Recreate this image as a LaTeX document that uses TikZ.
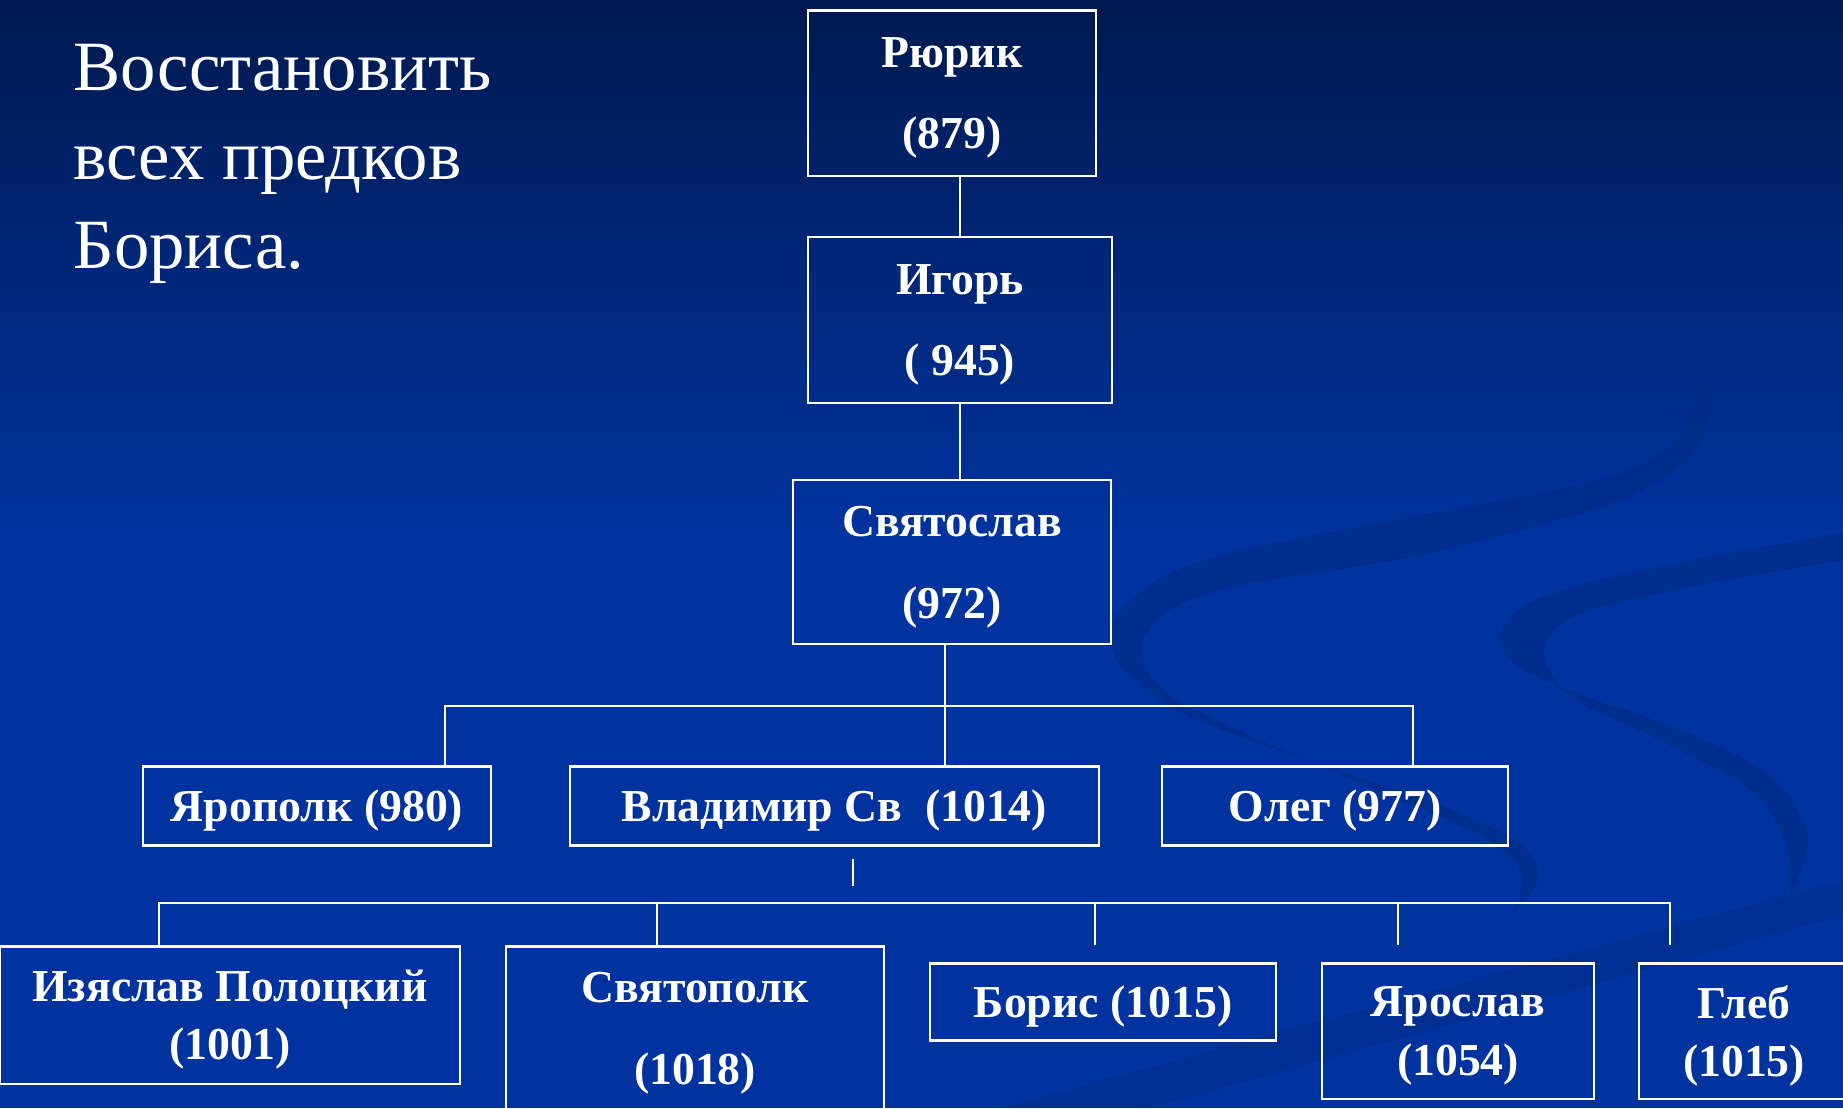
\documentclass[tikz,border=0pt]{standalone}
\usepackage{fontspec}
\setmainfont{Liberation Serif}
\usetikzlibrary{positioning}

\definecolor{bgtop}{HTML}{001A50}
\definecolor{bgmid}{HTML}{0033A0}
\definecolor{swirl}{HTML}{002C88}

\begin{document}
\begin{tikzpicture}[
    x=0.01cm, y=-0.01cm,
    famline/.style={draw=white, line width=0.6pt},
    person/.style={draw=white, line width=0.6pt, text=white, inner sep=0pt, align=center,
        text depth=0pt, font=\fontsize{13}{16.5}\selectfont\bfseries},
    personwide/.style={person, font=\fontsize{13}{23.3}\selectfont\bfseries},
    heading/.style={text=white, inner sep=0pt, align=left, font=\fontsize{20.1}{25.3}\selectfont},
]
% background
\useasboundingbox (0,0) rectangle (1843,1108);
\shade[top color=bgtop, bottom color=bgmid] (0,0) rectangle (1843,540);
\fill[bgmid] (0,539) rectangle (1843,1108);
\fill[swirl, opacity=0.7] plot[smooth] coordinates {(1688,337) (1694,400) (1672,445) (1600,480)
        (1432,513) (1242,550) (1160,578) (1114,620) (1118,662) (1180,712) (1300,758)
        (1440,805) (1522,845) (1538,880) (1515,910)}
    -- plot[smooth] coordinates {(1515,910) (1520,870) (1480,835) (1400,800) (1260,740)
        (1165,692) (1142,647) (1170,610) (1242,585) (1432,553) (1620,500) (1690,455)
        (1711,400) (1688,337)} -- cycle;
\fill[swirl, opacity=0.7] plot[smooth] coordinates {(1843,533) (1720,555) (1600,580) (1525,605)
        (1500,635) (1515,665) (1574,692) (1680,730) (1770,775) (1808,835) (1790,895)}
    -- plot[smooth] coordinates {(1790,895) (1785,840) (1750,790) (1660,740) (1575,700)
        (1545,660) (1552,632) (1590,610) (1700,585) (1843,560)} -- cycle;
\fill[swirl, opacity=0.5] (1000,1108) -- (1843,880) -- (1843,915) -- (1150,1108) -- cycle;

\node[heading, anchor=north west] (title) at (73,44) {Восстановить\\всех предков\\Бориса.};

% generations
\node[personwide, minimum width=2.87cm, minimum height=1.65cm] (rurik) at (952,93) {Рюрик\\(879)};
\node[personwide, minimum width=3.03cm, minimum height=1.66cm] (igor) at (960,320) {Игорь\\( 945)};
\node[personwide, minimum width=3.18cm, minimum height=1.64cm] (svyat) at (952,562) {Святослав\\(972)};
\node[person, minimum width=3.47cm, minimum height=0.79cm] (yaropolk) at (317,806) {Ярополк (980)};
\node[person, minimum width=5.29cm, minimum height=0.79cm, right=0.77cm of yaropolk] (vladimir) {Владимир Св~~(1014)};
\node[person, minimum width=3.46cm, minimum height=0.79cm, right=0.61cm of vladimir] (oleg) {Олег (977)};
\node[person, minimum width=4.59cm, minimum height=1.37cm] (izyaslav) at (230,1015) {Изяслав Полоцкий\\(1001)};
\node[personwide, minimum width=3.77cm, minimum height=1.63cm] (svyatopolk) at (695,1028) {Святополк\\(1018)};
\node[person, minimum width=3.46cm, minimum height=0.77cm] (boris) at (1103,1002) {Борис (1015)};
\node[person, minimum width=2.71cm, minimum height=1.35cm] (yaroslav) at (1458,1031) {Ярослав\\(1054)};
\node[person, minimum width=2.10cm, minimum height=1.35cm] (gleb) at (1744,1031) {Глеб\\(1015)};

% links
\draw[famline] (igor.north) -- (igor.north |- rurik.south);
\draw[famline] (igor.south) -- (igor.south |- svyat.north);
\coordinate (busAl) at (445,706);
\coordinate (busAm) at (945,706);
\coordinate (busAr) at (1413,706);
\draw[famline] (busAm |- svyat.south) -- (busAm |- vladimir.north);
\draw[famline] (busAl |- yaropolk.north) |- (busAr) -- (busAr |- oleg.north);
\coordinate (stubtop) at (853,859);
\coordinate (stubbot) at (853,886);
\draw[famline] (stubtop) -- (stubbot);
\coordinate (busBl) at (159,903);
\coordinate (busBr) at (1670,903);
\coordinate (dropS) at (657,903);
\coordinate (dropB) at (1095,903);
\coordinate (dropY) at (1398,903);
\draw[famline] (busBl |- izyaslav.north) |- (busBr) -- (busBr |- izyaslav.north);
\draw[famline] (dropS) -- (dropS |- svyatopolk.north);
\draw[famline] (dropB) -- (dropB |- izyaslav.north);
\draw[famline] (dropY) -- (dropY |- izyaslav.north);
\end{tikzpicture}
\end{document}
